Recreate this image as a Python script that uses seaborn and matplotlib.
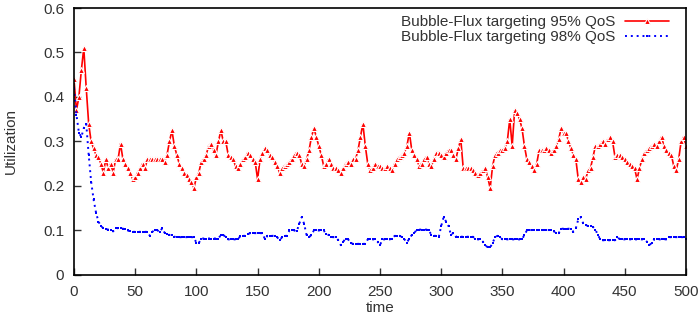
import numpy as np
import pandas as pd
import matplotlib
matplotlib.use("Agg")
import matplotlib.pyplot as plt
import seaborn as sns

util_95 = [
    0.44, 0.37, 0.40, 0.46, 0.51, 0.42, 0.34, 0.30, 0.285, 0.27,
    0.265, 0.25, 0.23, 0.26, 0.24, 0.25, 0.23, 0.26, 0.26, 0.295,
    0.26, 0.25, 0.24, 0.23, 0.215, 0.22, 0.23, 0.24, 0.25, 0.24,
    0.26, 0.26, 0.26, 0.26, 0.26, 0.26, 0.26, 0.255, 0.27, 0.30,
    0.325, 0.29, 0.27, 0.25, 0.24, 0.23, 0.225, 0.215, 0.21, 0.195,
    0.22, 0.23, 0.255, 0.26, 0.27, 0.29, 0.295, 0.28, 0.27, 0.30,
    0.325, 0.30, 0.30, 0.27, 0.265, 0.26, 0.245, 0.24, 0.25, 0.26,
    0.265, 0.275, 0.27, 0.26, 0.255, 0.215, 0.26, 0.275, 0.285, 0.28,
    0.27, 0.265, 0.255, 0.245, 0.23, 0.24, 0.245, 0.25, 0.255, 0.26,
    0.27, 0.275, 0.27, 0.25, 0.245, 0.26, 0.28, 0.31, 0.33, 0.31,
    0.29, 0.27, 0.245, 0.25, 0.26, 0.25, 0.24, 0.24, 0.235, 0.23,
    0.24, 0.25, 0.255, 0.25, 0.26, 0.26, 0.28, 0.31, 0.34, 0.29,
    0.25, 0.235, 0.24, 0.25, 0.245, 0.245, 0.24, 0.24, 0.245, 0.24,
    0.235, 0.25, 0.26, 0.265, 0.27, 0.275, 0.29, 0.32, 0.28, 0.27,
    0.26, 0.245, 0.25, 0.26, 0.265, 0.25, 0.245, 0.26, 0.275, 0.275,
    0.27, 0.265, 0.275, 0.28, 0.28, 0.27, 0.26, 0.285, 0.305, 0.24,
    0.24, 0.24, 0.24, 0.235, 0.23, 0.225, 0.23, 0.235, 0.24, 0.22,
    0.195, 0.245, 0.27, 0.275, 0.28, 0.28, 0.285, 0.30, 0.35, 0.29,
    0.37, 0.365, 0.35, 0.33, 0.29, 0.26, 0.255, 0.245, 0.235, 0.25,
    0.28, 0.28, 0.28, 0.285, 0.28, 0.275, 0.28, 0.29, 0.305, 0.33,
    0.32, 0.32, 0.30, 0.285, 0.27, 0.26, 0.215, 0.21, 0.22, 0.215,
    0.235, 0.24, 0.265, 0.29, 0.29, 0.295, 0.30, 0.295, 0.305, 0.31,
    0.30, 0.265, 0.27, 0.27, 0.265, 0.26, 0.255, 0.25, 0.245, 0.24,
    0.215, 0.24, 0.26, 0.275, 0.28, 0.285, 0.29, 0.295, 0.29, 0.30,
    0.31, 0.29, 0.28, 0.275, 0.27, 0.245, 0.235, 0.26, 0.30, 0.31,
    0.29,
]

util_98 = [
    0.42, 0.36, 0.32, 0.31, 0.33, 0.34, 0.27, 0.21, 0.17, 0.14,
    0.12, 0.11, 0.105, 0.103, 0.102, 0.10, 0.098, 0.106, 0.105, 0.105,
    0.104, 0.103, 0.10, 0.098, 0.097, 0.097, 0.097, 0.097, 0.097, 0.097,
    0.097, 0.088, 0.097, 0.101, 0.101, 0.096, 0.105, 0.095, 0.092, 0.09,
    0.09, 0.086, 0.085, 0.085, 0.085, 0.085, 0.085, 0.085, 0.085, 0.085,
    0.072, 0.072, 0.082, 0.082, 0.082, 0.082, 0.082, 0.082, 0.082, 0.082,
    0.09, 0.09, 0.085, 0.08, 0.08, 0.08, 0.08, 0.08, 0.088, 0.088,
    0.088, 0.092, 0.094, 0.094, 0.094, 0.094, 0.094, 0.094, 0.08, 0.088,
    0.088, 0.088, 0.088, 0.085, 0.078, 0.085, 0.088, 0.088, 0.10, 0.10,
    0.10, 0.098, 0.115, 0.13, 0.115, 0.09, 0.085, 0.09, 0.10, 0.10,
    0.10, 0.10, 0.10, 0.092, 0.09, 0.085, 0.085, 0.085, 0.078, 0.067,
    0.075, 0.082, 0.08, 0.072, 0.07, 0.07, 0.07, 0.07, 0.07, 0.07,
    0.08, 0.08, 0.08, 0.08, 0.075, 0.067, 0.08, 0.08, 0.08, 0.08,
    0.082, 0.088, 0.088, 0.088, 0.085, 0.08, 0.073, 0.082, 0.09, 0.094,
    0.102, 0.102, 0.102, 0.102, 0.102, 0.10, 0.09, 0.088, 0.088, 0.085,
    0.11, 0.13, 0.12, 0.11, 0.09, 0.095, 0.086, 0.086, 0.086, 0.086,
    0.086, 0.086, 0.086, 0.086, 0.08, 0.08, 0.08, 0.075, 0.067, 0.062,
    0.062, 0.072, 0.085, 0.088, 0.085, 0.08, 0.08, 0.08, 0.08, 0.08,
    0.08, 0.08, 0.08, 0.08, 0.09, 0.10, 0.101, 0.101, 0.101, 0.101,
    0.101, 0.101, 0.101, 0.101, 0.101, 0.101, 0.098, 0.094, 0.094, 0.104,
    0.104, 0.104, 0.104, 0.104, 0.097, 0.105, 0.125, 0.13, 0.116, 0.112,
    0.11, 0.109, 0.108, 0.102, 0.09, 0.08, 0.078, 0.078, 0.078, 0.078,
    0.078, 0.078, 0.085, 0.08, 0.08, 0.08, 0.08, 0.08, 0.08, 0.08,
    0.08, 0.08, 0.08, 0.08, 0.075, 0.067, 0.072, 0.08, 0.08, 0.08,
    0.08, 0.08, 0.08, 0.085, 0.085, 0.085, 0.085, 0.085, 0.085, 0.085,
    0.082,
]

time = np.arange(0, 2 * len(util_95), 2)
label_95 = "Bubble-Flux targeting 95% QoS"
label_98 = "Bubble-Flux targeting 98% QoS"

df95 = pd.DataFrame({"time": time, "util": util_95})
df98 = pd.DataFrame({"time": np.arange(0, 2 * len(util_98), 2), "util": util_98})

sns.set_style("white")
plt.rcParams["font.family"] = ["Liberation Sans", "DejaVu Sans"]

fig = plt.figure(figsize=(7, 3.15), dpi=100)
ax = fig.add_axes([0.1057, 0.127, 0.8743, 0.8476])

sns.lineplot(data=df95, x="time", y="util", ax=ax, color="#ff0000",
             marker="^", markersize=4.5, markeredgewidth=0.8, lw=1.2,
             label=label_95)
sns.lineplot(data=df98, x="time", y="util", ax=ax, color="#0000ff",
             linestyle=(0, (1, 2)), marker="s", markersize=2.0,
             markeredgewidth=0, lw=1.4, label=label_98)

ax.set_xlim(0, 500)
ax.set_ylim(0, 0.6)
ax.set_xticks(range(0, 501, 50))
ax.set_yticks([0, 0.1, 0.2, 0.3, 0.4, 0.5, 0.6])
ax.set_yticklabels(["0", "0.1", "0.2", "0.3", "0.4", "0.5", "0.6"])
ax.tick_params(direction="in", length=5, width=1, labelsize=11, colors="#333333",
               bottom=True, left=True, pad=7)
for sp in ax.spines.values():
    sp.set_color("black")
    sp.set_linewidth(1.2)
ax.set_xlabel("time", fontsize=11, labelpad=2, color="#333333")
ax.set_ylabel("Utilization", fontsize=11, labelpad=18, color="#333333")

leg = ax.legend(loc="upper right", bbox_to_anchor=(0.982, 0.995), frameon=False,
                markerfirst=False, fontsize=11, handlelength=2.9, numpoints=1,
                borderaxespad=0, labelspacing=0.05, handletextpad=0.6)
for t in leg.get_texts():
    t.set_color("#333333")

fig.savefig("out.png", dpi=100)
